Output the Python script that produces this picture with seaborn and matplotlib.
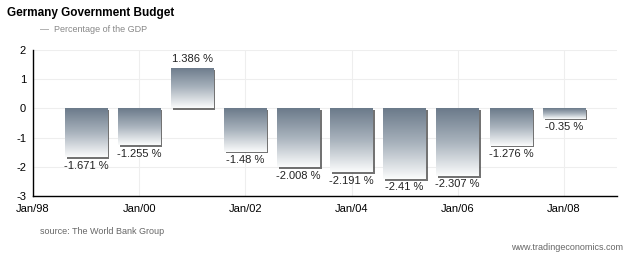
import numpy as np
import pandas as pd
import matplotlib
matplotlib.use("Agg")
import matplotlib.pyplot as plt
import seaborn as sns
from matplotlib.colors import LinearSegmentedColormap
from matplotlib.patches import Rectangle

years = [1999, 2000, 2001, 2002, 2003, 2004, 2005, 2006, 2007, 2008]
values = [-1.671, -1.255, 1.386, -1.48, -2.008, -2.191, -2.41, -2.307, -1.276, -0.35]
labels = ["-1.671 %", "-1.255 %", "1.386 %", "-1.48 %", "-2.008 %", "-2.191 %",
          "-2.41 %", "-2.307 %", "-1.276 %", "-0.35 %"]
tick_years = [1998, 2000, 2002, 2004, 2006, 2008]
tick_labels = ["Jan/98", "Jan/00", "Jan/02", "Jan/04", "Jan/06", "Jan/08"]
y_ticks = [2, 1, 0, -1, -2, -3]

df = pd.DataFrame({"year": years, "value": values})

sns.set_theme(style="white")
plt.rcParams["font.family"] = ["Liberation Sans", "DejaVu Sans"]
plt.rcParams["axes.unicode_minus"] = False

fig = plt.figure(figsize=(6.4, 2.59), dpi=100)
ax = fig.add_axes([33/640, 1-196/259, (617-33)/640, (196-50)/259])

sns.barplot(data=df, x="year", y="value", native_scale=True, width=0.8,
            color="#6f7d8c", ax=ax, errorbar=None, zorder=3)

cmap = LinearSegmentedColormap.from_list("g", ["#6b7a8a", "#a9b3bd", "#fbfcfc"])
grad = np.linspace(0, 1, 256).reshape(-1, 1)
for p in list(ax.patches):
    x0, y0 = p.get_x(), p.get_y()
    w, h = p.get_width(), p.get_height()
    bottom, top = min(y0, y0 + h), max(y0, y0 + h)
    # shadow
    sh = Rectangle((x0 + 0.035, bottom - 0.06), w, top - bottom,
                   facecolor="#5a5a5a", edgecolor="none", zorder=2, alpha=0.85)
    ax.add_patch(sh)
    p.set_facecolor("none")
    p.set_edgecolor("none")
    im = ax.imshow(grad, cmap=cmap, aspect="auto", origin="upper",
                   extent=[x0, x0 + w, bottom, top], zorder=3)
    im.set_clip_path(p)

for x, v, lab in zip(years, values, labels):
    if v >= 0:
        ax.text(x, v + 0.12, lab, ha="center", va="bottom", fontsize=8, color="#222222", zorder=5)
    else:
        ax.text(x, v - 0.12, lab, ha="center", va="top", fontsize=8, color="#222222", zorder=5)

ax.set_xlim(1998, 2009)
ax.set_ylim(-3, 2)
ax.set_xticks(tick_years)
ax.set_xticklabels(tick_labels)
ax.set_yticks(y_ticks)
ax.set_xlabel("")
ax.set_ylabel("")
ax.tick_params(axis="both", labelsize=8, colors="#000000", length=4, width=1,
               direction="out", pad=1)
ax.tick_params(axis="x", pad=2)
ax.grid(True, color="#eeeeee", linewidth=0.8, zorder=0)
ax.set_axisbelow(True)
for s in ["top", "right"]:
    ax.spines[s].set_visible(False)
for s in ["left", "bottom"]:
    ax.spines[s].set_color("#000000")
    ax.spines[s].set_linewidth(1.0)

fig.text(7/640, 1-13/259, "Germany Government Budget", fontsize=8.5, fontweight="bold",
         color="#000000", ha="left", va="center")
fig.text(40/640, 1-30/259, "—  Percentage of the GDP", fontsize=6.5, color="#888888",
         ha="left", va="center")
fig.text(40/640, 1-231/259, "source: The World Bank Group", fontsize=6.5, color="#666666",
         ha="left", va="center")
fig.text(623/640, 1-247/259, "www.tradingeconomics.com", fontsize=6.5, color="#666666",
         ha="right", va="center")

fig.savefig("out.png", dpi=100, facecolor="white")
